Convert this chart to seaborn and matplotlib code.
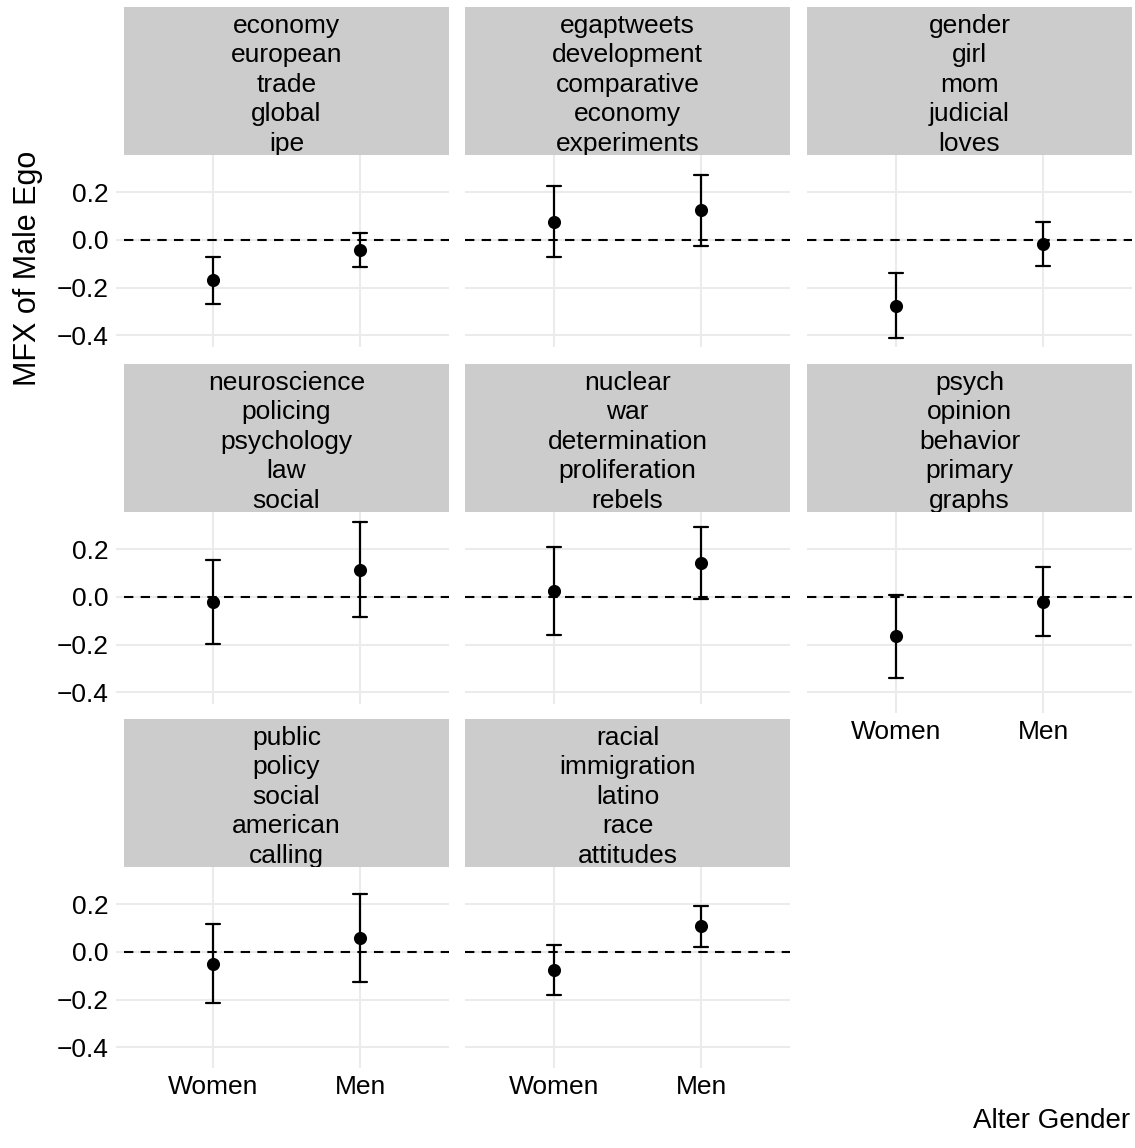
import numpy as np
import pandas as pd
import matplotlib
matplotlib.use("Agg")
import matplotlib.pyplot as plt
import seaborn as sns

# Topic labels (top words of each topic)
topics = [
    ["economy", "european", "trade", "global", "ipe"],
    ["egaptweets", "development", "comparative", "economy", "experiments"],
    ["gender", "girl", "mom", "judicial", "loves"],
    ["neuroscience", "policing", "psychology", "law", "social"],
    ["nuclear", "war", "determination", "proliferation", "rebels"],
    ["psych", "opinion", "behavior", "primary", "graphs"],
    ["public", "policy", "social", "american", "calling"],
    ["racial", "immigration", "latino", "race", "attitudes"],
]
genders = ["Women", "Men"]

# Marginal effects of male ego and their interval bounds, per topic
est_women = [-0.169, 0.076, -0.277, -0.022, 0.025, -0.165, -0.049, -0.074]
lo_women = [-0.270, -0.073, -0.414, -0.199, -0.160, -0.340, -0.215, -0.180]
hi_women = [-0.071, 0.225, -0.141, 0.157, 0.211, 0.010, 0.119, 0.031]
est_men = [-0.042, 0.124, -0.017, 0.115, 0.142, -0.021, 0.057, 0.108]
lo_men = [-0.115, -0.025, -0.109, -0.085, -0.010, -0.165, -0.127, 0.021]
hi_men = [0.031, 0.273, 0.077, 0.317, 0.293, 0.124, 0.243, 0.193]

# Long table: each (topic, gender) carries lower bound, estimate, upper bound,
# so the median is the estimate and the full percentile range is the interval.
rows = []
for i in range(len(topics)):
    for g, lo, est, hi in (("Women", lo_women[i], est_women[i], hi_women[i]),
                           ("Men", lo_men[i], est_men[i], hi_men[i])):
        for v in (lo, est, hi):
            rows.append({"topic": i, "gender": g, "mfx": v})
df = pd.DataFrame(rows)

sns.set_theme(style="whitegrid")
plt.rcParams["font.family"] = ["Liberation Sans", "DejaVu Sans"]
plt.rcParams["axes.unicode_minus"] = True

W, H = 1135, 1148
fig = plt.figure(figsize=(W / 100, H / 100), dpi=100)
fig.patch.set_facecolor("white")


def rect(x0, y0, w, h):
    return [x0 / W, 1 - (y0 + h) / H, w / W, h / H]


col_x = [124, 465, 807]
row_y = [155, 512, 867]
pw, ph = 325, 192
sh = 148
grid_c = "#EBEBEB"
fs = 19.0

for i, words in enumerate(topics):
    r, c = divmod(i, 3)
    x0, y0 = col_x[c], row_y[r]

    ax = fig.add_axes(rect(x0, y0, pw, ph))
    ax.set_facecolor("white")
    ax.plot([-0.6, 1.6], [0, 0], color="black", linestyle=(0, (4.5, 3.5)),
            linewidth=1.5, zorder=2)
    sns.pointplot(data=df[df["topic"] == i], x="gender", y="mfx", order=genders,
                  estimator="median", errorbar=("pi", 100), capsize=0.095,
                  color="black", linestyle="none", markersize=7.4,
                  err_kws={"linewidth": 1.6}, ax=ax, zorder=3)
    ax.set_xlim(-0.6, 1.6)
    ax.set_ylim(-0.45, 0.357)
    ax.set_yticks([-0.4, -0.2, 0.0, 0.2])
    ax.grid(True, color=grid_c, linewidth=1.5)
    ax.set_axisbelow(True)
    for s in ax.spines.values():
        s.set_visible(False)
    ax.set_xlabel("")
    ax.set_ylabel("")

    show_x = (r == 2) or (r == 1 and c == 2)
    show_y = (c == 0)
    ax.tick_params(axis="x", which="both", bottom=show_x, labelbottom=show_x,
                   length=6.5, width=1.5, color=grid_c, pad=5,
                   labelsize=fs, labelcolor="black")
    ax.tick_params(axis="y", which="both", left=show_y, labelleft=show_y,
                   length=5.8, width=1.5, color=grid_c, pad=5.5,
                   labelsize=fs, labelcolor="black")

    # facet strip
    sax = fig.add_axes(rect(x0, y0 - sh, pw, sh))
    sax.set_facecolor("#CCCCCC")
    sax.set_xticks([])
    sax.set_yticks([])
    sax.grid(False)
    for s in sax.spines.values():
        s.set_visible(False)
    sax.text(0.5, 0.475, "\n".join(words), ha="center", va="center",
             fontsize=fs, color="black", linespacing=1.29,
             transform=sax.transAxes, clip_on=True)

fig.text(28 / W, 1 - 268 / H, "MFX of Male Ego", rotation=90, ha="center",
         va="center", fontsize=22, color="black")
fig.text(1130 / W, 1 - 1121 / H, "Alter Gender", ha="right", va="center",
         fontsize=20, color="black")

fig.savefig("out.png", dpi=100, facecolor="white")
